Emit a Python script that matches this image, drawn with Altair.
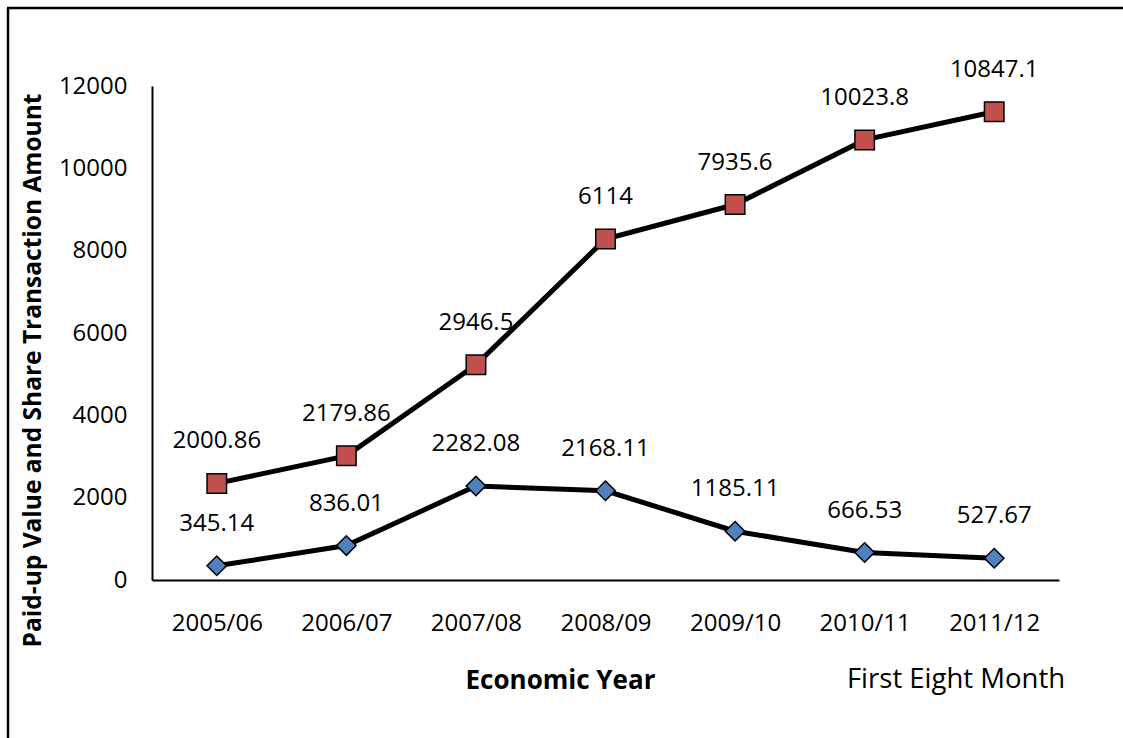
import altair as alt
import pandas as pd

years = ["2005/06", "2006/07", "2007/08", "2008/09", "2009/10", "2010/11", "2011/12"]
paid_up = [345.14, 836.01, 2282.08, 2168.11, 1185.11, 666.53, 527.67]
share_tx = [2000.86, 2179.86, 2946.5, 6114, 7935.6, 10023.8, 10847.1]
series_names = ["Paid-up Value", "Share Transaction Amount"]
series_colors = ["#4F81BD", "#C0504D"]
series_shapes = ["diamond", "square"]

rows = []
for i, y in enumerate(years):
    rows.append({"year": y, "series": series_names[0], "order": 0, "value": paid_up[i], "label": f"{paid_up[i]:g}"})
    rows.append({"year": y, "series": series_names[1], "order": 1, "value": share_tx[i], "label": f"{share_tx[i]:g}"})
df = pd.DataFrame(rows)

FONT = "Open Sans"

base = alt.Chart(df).transform_stack(
    stack="value", as_=["y0", "y1"], groupby=["year"], sort=[alt.SortField("order")]
).encode(
    x=alt.X("year:N", sort=years, scale=alt.Scale(type="point", padding=0.5),
            axis=alt.Axis(title="Economic Year", labelAngle=0, ticks=False, grid=False,
                          domainColor="black", domainWidth=2, labelColor="black",
                          labelFont=FONT, labelFontSize=24, labelBaseline="middle", labelPadding=43,
                          titleFont=FONT, titleFontSize=26, titleFontWeight="bold", titleColor="black",
                          titleX=408, titleY=100, titleAlign="center", titleBaseline="middle")),
    y=alt.Y("y1:Q", scale=alt.Scale(domain=[0, 12000]),
            axis=alt.Axis(title="Paid-up Value and Share Transaction Amount", values=list(range(0, 12001, 2000)),
                          format="d",
                          ticks=False, grid=False, domainColor="black", domainWidth=2, labelColor="black",
                          labelFont=FONT, labelFontSize=24, labelPadding=25,
                          titleFont=FONT, titleFontSize=24.5, titleFontWeight="bold", titleColor="black",
                          titleAngle=-90, titleX=-119, titleY=284, titleAlign="center", titleBaseline="middle")),
)

lines = base.mark_line(color="black", strokeWidth=5).encode(detail="series:N")
points = base.mark_point(filled=True, size=380, stroke="black", strokeWidth=1.5, opacity=1).encode(
    shape=alt.Shape("series:N", scale=alt.Scale(domain=series_names, range=series_shapes), legend=None),
    color=alt.Color("series:N", scale=alt.Scale(domain=series_names, range=series_colors), legend=None),
)
texts = base.mark_text(dy=-42, font=FONT, fontSize=24, color="black", baseline="middle").encode(text="label:N")

frame_df = pd.DataFrame({"a": [0]})
left_line = alt.Chart(frame_df).mark_rule(color="black", strokeWidth=2.5).encode(
    x=alt.value(-144), y=alt.value(-78), y2=alt.value(670))
top_line = alt.Chart(frame_df).mark_rule(color="black", strokeWidth=2.5).encode(
    x=alt.value(-145), x2=alt.value(990), y=alt.value(-78))
note = alt.Chart(pd.DataFrame({"t": ["First Eight Month"]})).mark_text(
    font=FONT, fontSize=27.5, color="black", align="center", baseline="middle").encode(
    text="t:N", x=alt.value(804), y=alt.value(594))

chart = alt.layer(lines, points, texts, left_line, top_line, note).properties(
    width=907, height=494,
    autosize=alt.AutoSizeParams(type="none"),
    padding={"left": 152, "top": 86, "right": 64, "bottom": 158},
    background="white",
).configure_view(stroke=None)

chart.save("out.html", embed_options={"renderer": "svg", "actions": False})
